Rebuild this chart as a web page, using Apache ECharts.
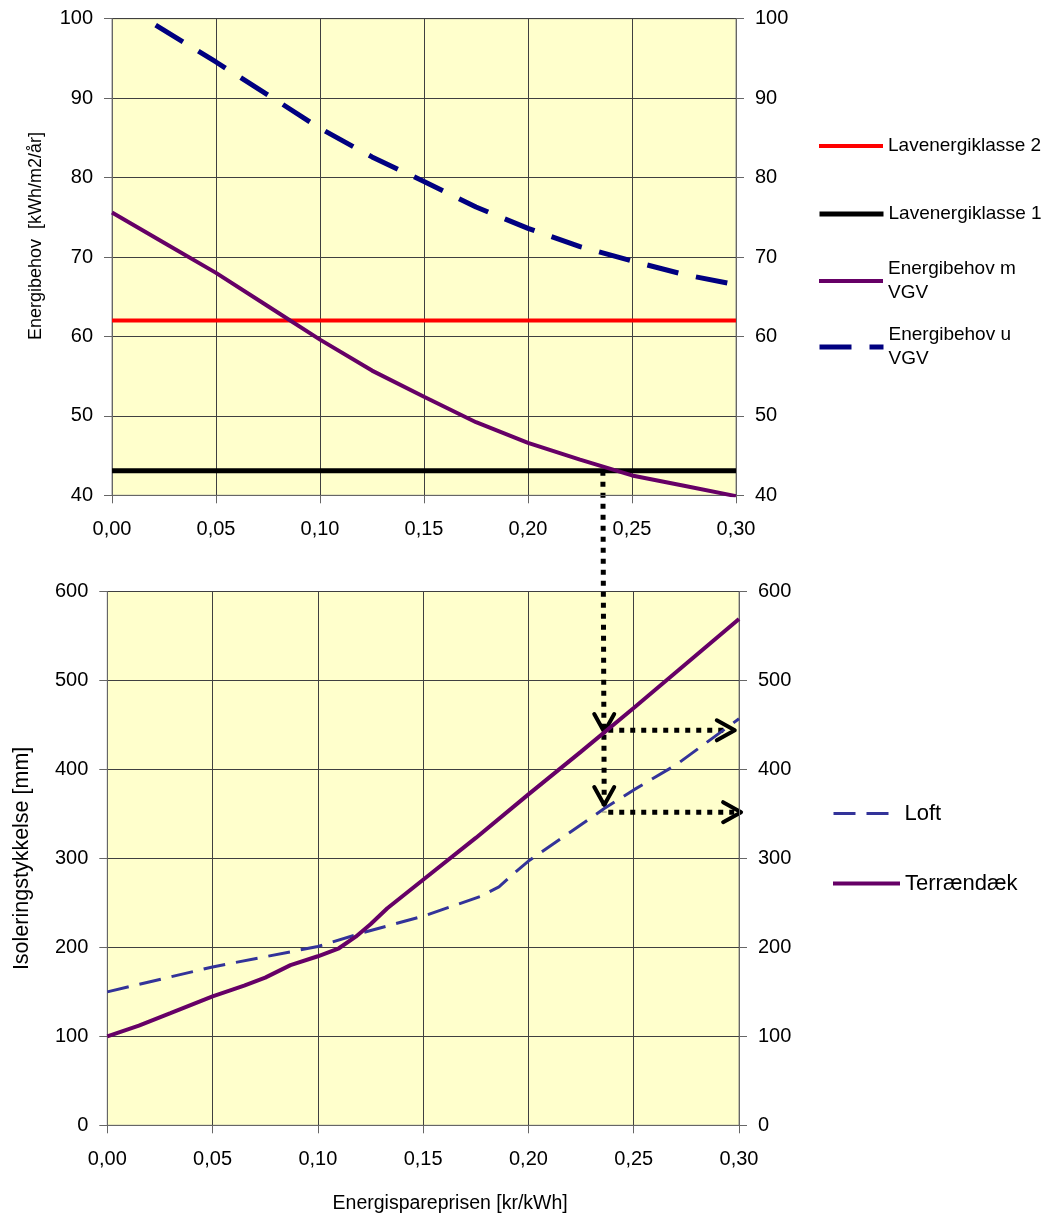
<!DOCTYPE html>
<html>
<head>
<meta charset="utf-8">
<script src="https://cdn.jsdelivr.net/npm/echarts@6/dist/echarts.min.js"></script>
<style>
html, body { margin: 0; padding: 0; background: #fff; }
#main { width: 1048px; height: 1226px; }
</style>
</head>
<body>
<div id="main"></div>
<script>
// ovre diagram: energibehov
var energiX = [0, 0.025, 0.05, 0.075, 0.10, 0.125, 0.15, 0.175, 0.20, 0.225, 0.25, 0.275, 0.30];
var energiMedVGV = [75.6, 71.8, 68.0, 63.8, 59.6, 55.7, 52.4, 49.2, 46.6, 44.5, 42.5, 41.2, 39.9];
var energiUX = [0.021, 0.05, 0.075, 0.10, 0.125, 0.15, 0.175, 0.20, 0.225, 0.25, 0.275, 0.30];
var energiUdenVGV = [99.2, 94.55, 90.4, 86.2, 82.6, 79.5, 76.3, 73.6, 71.3, 69.5, 67.8, 66.5];
var lavenergi2 = 62.0;
var lavenergi1 = 43.1;

// nedre diagram: isoleringstykkelse
var terrX = [0, 0.015, 0.03, 0.05, 0.065, 0.075, 0.087, 0.10, 0.11, 0.118, 0.125, 0.133, 0.15, 0.175, 0.20, 0.225, 0.25, 0.275, 0.30];
var terraendaek = [100, 112, 126, 145, 157, 166, 180, 190, 199, 212, 226, 244, 276, 323, 372, 420, 469, 519, 569];
var loftX = [0, 0.05, 0.10, 0.122, 0.15, 0.177, 0.186, 0.193, 0.20, 0.236, 0.25, 0.27, 0.30];
var loft = [150, 178, 201, 217, 235, 257, 268, 283, 297, 356, 377, 405, 457];

// aflaesningspile
var pilX = 0.236;
var pilNiveauer = [444, 352];
var pilSpidserNed = [442, 360];
var pilSlutX = [0.298, 0.301];

var skrift = "'Liberation Sans', Arial, sans-serif";

function par(xs, ys) {
	var ud = [];
	for (let i = 0; i < xs.length; i++) {
		ud.push([xs[i], ys[i]]);
	}
	return ud;
}

function kommaTal(v) {
	return v.toFixed(2).replace('.', ',');
}

function xAkse(grid, navn) {
	var akse = {
		type: 'value', gridIndex: grid, min: 0, max: 0.3, interval: 0.05,
		axisLine: { show: true, lineStyle: { color: '#666', width: 1 } },
		axisTick: { show: true, length: 8, lineStyle: { color: '#666' } },
		axisLabel: { margin: 24, fontSize: 20, color: '#000', fontFamily: skrift, formatter: kommaTal },
		splitLine: { show: true, lineStyle: { color: '#404040', width: 1 } }
	};
	if (navn) {
		akse.name = navn;
		akse.nameLocation = 'middle';
		akse.nameGap = 68;
		akse.nameTextStyle = { fontSize: 19.5, color: '#000', fontFamily: skrift, padding: [0, 0, 0, 54] };
	}
	return akse;
}

function yAkse(grid, pos, min, max, interval, navn, gap, pad, storrelse) {
	var akse = {
		type: 'value', gridIndex: grid, position: pos, min: min, max: max, interval: interval,
		axisLine: { show: true, onZero: false, lineStyle: { color: '#666', width: 1 } },
		axisTick: { show: true, length: 8, lineStyle: { color: '#666' } },
		axisLabel: { margin: 19, fontSize: 20, color: '#000', fontFamily: skrift },
		splitLine: { show: pos === 'left', lineStyle: { color: '#404040', width: 1 } }
	};
	if (navn) {
		akse.name = navn;
		akse.nameLocation = 'middle';
		akse.nameGap = gap;
		akse.nameTextStyle = { fontSize: storrelse, color: '#000', fontFamily: skrift, padding: pad };
	}
	return akse;
}

function legende(navn, top, left, bredde, storrelse, linjebredde, tolinjer) {
	var tekst = { fontSize: storrelse, color: '#000', fontFamily: skrift, lineHeight: storrelse + 5 };
	if (tolinjer) {
		tekst.padding = [storrelse + 5, 0, 0, 0];
	}
	return {
		data: [navn], top: top, left: left, itemWidth: bredde, itemHeight: 14, itemGap: 0,
		selectedMode: false, textStyle: tekst, padding: 0,
		itemStyle: { opacity: 0 },
		lineStyle: { width: linjebredde },
		formatter: function (n) { return tolinjer ? n.replace(' VGV', '\nVGV') : n; }
	};
}

var option = {
	animation: false,
	backgroundColor: '#fff',
	grid: [
		{ left: 112, top: 18.7, width: 624, height: 476.6, show: true, backgroundColor: '#FFFFCC', borderColor: '#888', borderWidth: 1 },
		{ left: 107.3, top: 591.5, width: 631.7, height: 533.8, show: true, backgroundColor: '#FFFFCC', borderColor: '#888', borderWidth: 1 }
	],
	xAxis: [xAkse(0), xAkse(1, 'Energispareprisen [kr/kWh]')],
	yAxis: [
		yAkse(0, 'left', 40, 100, 10, 'Energibehov  [kWh/m2/år]', 67, [0, 0, 0, 42], 18),
		yAkse(0, 'right', 40, 100, 10),
		yAkse(1, 'left', 0, 600, 100, 'Isoleringstykkelse [mm]', 74, [0, 0, 0, 0], 21.5),
		yAkse(1, 'right', 0, 600, 100)
	],
	legend: [
		legende('Lavenergiklasse 2', 134, 817, 64, 19, 4, false),
		legende('Lavenergiklasse 1', 202, 817, 64, 19, 5, false),
		legende('Energibehov m VGV', 245, 817, 64, 19, 4, true),
		legende('Energibehov u VGV', 311, 817, 64, 19, 5, true),
		legende('Loft', 800, 832, 66, 22, 3, false),
		legende('Terrændæk', 870, 831, 67, 22, 4, false)
	],
	series: [
		{ name: 'Lavenergiklasse 2', type: 'line', xAxisIndex: 0, yAxisIndex: 0, symbol: 'none',
			data: [[0, lavenergi2], [0.3, lavenergi2]], lineStyle: { color: '#FF0000', width: 4 }, itemStyle: { color: '#FF0000' } },
		{ name: 'Lavenergiklasse 1', type: 'line', xAxisIndex: 0, yAxisIndex: 0, symbol: 'none',
			data: [[0, lavenergi1], [0.3, lavenergi1]], lineStyle: { color: '#000000', width: 5 }, itemStyle: { color: '#000000' } },
		{ name: 'Energibehov m VGV', type: 'line', xAxisIndex: 0, yAxisIndex: 0, symbol: 'none',
			data: par(energiX, energiMedVGV), lineStyle: { color: '#660066', width: 4 }, itemStyle: { color: '#660066' } },
		{ name: 'Energibehov u VGV', type: 'line', xAxisIndex: 0, yAxisIndex: 0, symbol: 'none',
			data: par(energiUX, energiUdenVGV), lineStyle: { color: '#000080', width: 5, type: [32, 18] }, itemStyle: { color: '#000080' } },
		{ name: 'Loft', type: 'line', xAxisIndex: 1, yAxisIndex: 2, symbol: 'none',
			data: par(loftX, loft), lineStyle: { color: '#333399', width: 3, type: [22, 11] }, itemStyle: { color: '#333399' } },
		{ name: 'Terrændæk', type: 'line', xAxisIndex: 1, yAxisIndex: 2, symbol: 'none',
			data: par(terrX, terraendaek), lineStyle: { color: '#660066', width: 4 }, itemStyle: { color: '#660066' } }
	]
};

var myChart = echarts.init(document.getElementById('main'), null, { renderer: 'canvas' });
myChart.setOption(option);

// pile tegnes via akseskalaerne
var oeverst = myChart.convertToPixel({ xAxisIndex: 0, yAxisIndex: 0 }, [pilX, lavenergi1]);
var nederst = myChart.convertToPixel({ xAxisIndex: 1, yAxisIndex: 2 }, [pilX, pilNiveauer[1]]);
var prik = { stroke: '#000', lineWidth: 5, lineDash: [5, 6], fill: null };
var spids = { stroke: '#000', lineWidth: 4, fill: null, lineCap: 'round', lineJoin: 'round' };
var grafik = [{ type: 'polyline', shape: { points: [oeverst, nederst] }, style: prik }];

for (let i = 0; i < pilNiveauer.length; i++) {
	let start = myChart.convertToPixel({ xAxisIndex: 1, yAxisIndex: 2 }, [pilX, pilNiveauer[i]]);
	let slut = myChart.convertToPixel({ xAxisIndex: 1, yAxisIndex: 2 }, [pilSlutX[i], pilNiveauer[i]]);
	let ned = myChart.convertToPixel({ xAxisIndex: 1, yAxisIndex: 2 }, [pilX, pilSpidserNed[i]]);
	grafik.push({ type: 'polyline', shape: { points: [[start[0] + 4, start[1]], [slut[0] - 6, slut[1]]] }, style: prik });
	grafik.push({ type: 'polyline', shape: { points: [[slut[0] - 18, slut[1] - 10], slut, [slut[0] - 18, slut[1] + 10]] }, style: spids });
	grafik.push({ type: 'polyline', shape: { points: [[ned[0] - 10, ned[1] - 18], ned, [ned[0] + 10, ned[1] - 18]] }, style: spids });
}

myChart.setOption({ graphic: grafik });
</script>
</body>
</html>
